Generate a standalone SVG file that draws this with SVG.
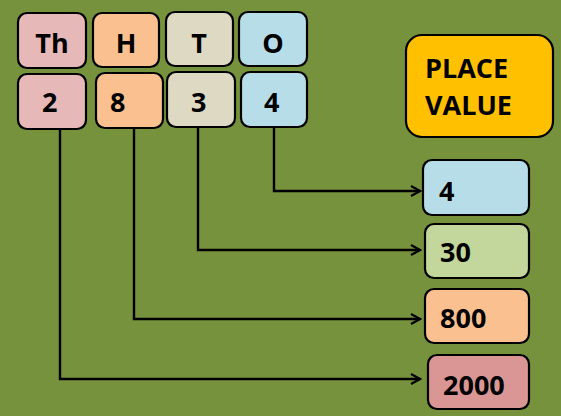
<svg xmlns="http://www.w3.org/2000/svg" width="561" height="416" viewBox="0 0 561 416">
<defs>
<marker id="arr" markerWidth="12" markerHeight="12" refX="10" refY="6" orient="auto" markerUnits="userSpaceOnUse">
<path d="M1,1 L10,6 L1,11" fill="none" stroke="#000" stroke-width="2.2"/>
</marker>
<style>
.b{stroke:#000;stroke-width:2.2}
.t{font-family:"Open Sans","Liberation Sans",sans-serif;font-weight:bold;font-size:27px;fill:#000}
.c{stroke:#000;stroke-width:2.4;fill:none}
</style>
</defs>
<rect width="561" height="416" fill="#77923C"/>
<g id="connectors">
<path class="c" d="M274,128 V191 H420" marker-end="url(#arr)"/>
<path class="c" d="M198,128 V250 H420" marker-end="url(#arr)"/>
<path class="c" d="M134,129 V319 H420" marker-end="url(#arr)"/>
<path class="c" d="M60,130 V379 H420" marker-end="url(#arr)"/>
</g>
<g id="h-th"><rect class="b" x="18" y="13" width="68" height="55" rx="9" fill="#E6B9B8"/><text class="t" x="52" y="53" text-anchor="middle">Th</text></g>
<g id="h-h"><rect class="b" x="93" y="13" width="66" height="54" rx="9" fill="#FAC090"/><text class="t" x="126" y="53" text-anchor="middle">H</text></g>
<g id="h-t"><rect class="b" x="166" y="12" width="67" height="54" rx="9" fill="#DDD9C3"/><text class="t" x="199" y="53" text-anchor="middle">T</text></g>
<g id="h-o"><rect class="b" x="239" y="12" width="68" height="54" rx="9" fill="#B7DEE8"/><text class="t" x="273" y="53" text-anchor="middle">O</text></g>
<g id="d-2"><rect class="b" x="18" y="74" width="68" height="55" rx="9" fill="#E6B9B8"/><text class="t" x="42" y="112">2</text></g>
<g id="d-8"><rect class="b" x="96" y="73" width="67" height="55" rx="9" fill="#FAC090"/><text class="t" x="110" y="112">8</text></g>
<g id="d-3"><rect class="b" x="167" y="72" width="68" height="55" rx="9" fill="#DDD9C3"/><text class="t" x="191" y="112">3</text></g>
<g id="d-4"><rect class="b" x="241" y="72" width="66" height="55" rx="9" fill="#B7DEE8"/><text class="t" x="264" y="112">4</text></g>
<g id="place-value"><rect class="b" x="406" y="35" width="147" height="102" rx="16" fill="#FFC000"/><text class="t" x="425" y="78">PLACE</text><text class="t" x="425" y="115">VALUE</text></g>
<g id="v-4"><rect class="b" x="423" y="160" width="106" height="55" rx="9" fill="#B7DEE8"/><text class="t" x="439" y="201">4</text></g>
<g id="v-30"><rect class="b" x="425" y="224" width="104" height="54" rx="9" fill="#C3D69B"/><text class="t" x="440" y="262">30</text></g>
<g id="v-800"><rect class="b" x="425" y="289" width="104" height="54" rx="9" fill="#FAC090"/><text class="t" x="440" y="328">800</text></g>
<g id="v-2000"><rect class="b" x="428" y="355" width="101" height="54" rx="9" fill="#D99694"/><text class="t" x="443" y="395">2000</text></g>
</svg>
